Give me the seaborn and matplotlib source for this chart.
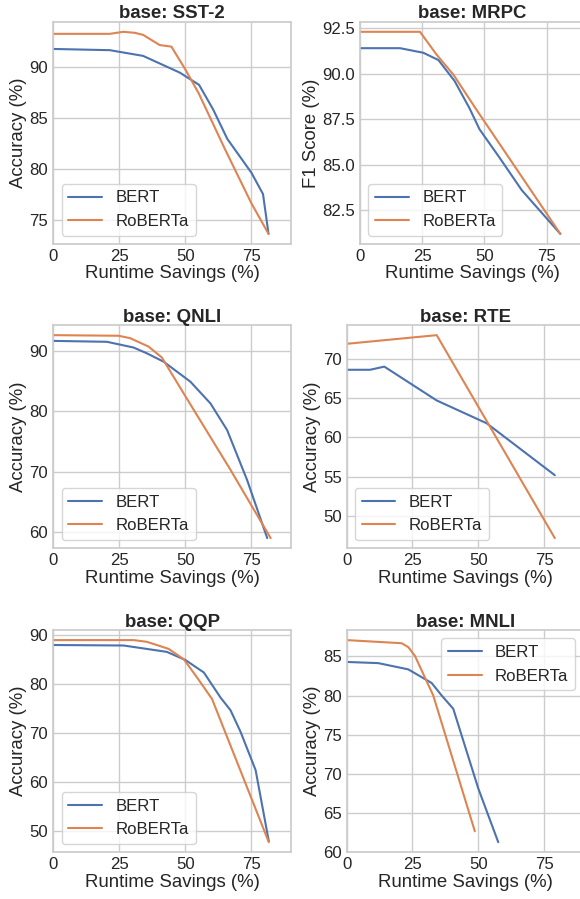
import numpy as np
import pandas as pd
import matplotlib
matplotlib.use("Agg")
import matplotlib.pyplot as plt
import seaborn as sns

# ---------------- data ----------------
models = ["BERT", "RoBERTa"]

sst2_bert_x = [0, 21.4, 34, 47.9, 55.2, 60.5, 65.9, 75, 79.4, 81.5]
sst2_bert_y = [91.72, 91.6, 91.04, 89.4, 88.2, 85.8, 82.9, 79.6, 77.5, 73.6]
sst2_rob_x = [0, 21.4, 26.5, 30.9, 34, 40.3, 44.7, 49.8, 55, 65, 75, 81.5]
sst2_rob_y = [93.2, 93.2, 93.4, 93.3, 93.1, 92.1, 91.95, 89.8, 87.4, 81.9, 76.6, 73.6]

mrpc_bert_x = [0, 16.1, 25.4, 31.5, 38, 44, 48, 56, 65, 80.5]
mrpc_bert_y = [91.4, 91.4, 91.15, 90.75, 89.6, 88.1, 86.95, 85.4, 83.6, 81.2]
mrpc_rob_x = [0, 24.1, 30.8, 37.5, 46.9, 80.5]
mrpc_rob_y = [92.3, 92.3, 91.04, 89.95, 88.0, 81.2]

qnli_bert_x = [0, 20.3, 30.4, 35.4, 41.8, 51.9, 59.5, 65.8, 73.4, 81]
qnli_bert_y = [91.65, 91.5, 90.55, 89.6, 88.2, 84.9, 81.3, 76.9, 68.6, 59.0]
qnli_rob_x = [0, 24.7, 29.1, 36.1, 41.1, 50, 67.1, 82.3]
qnli_rob_y = [92.6, 92.5, 92.1, 90.7, 88.9, 82.5, 70.3, 59.0]

rte_bert_x = [0, 8.9, 14.3, 34.2, 53.2, 79.1]
rte_bert_y = [68.6, 68.6, 69.0, 64.7, 61.8, 55.2]
rte_rob_x = [0, 34.2, 79.1]
rte_rob_y = [71.9, 73.0, 47.2]

qqp_bert_x = [0, 26.6, 43, 50, 57, 63.3, 67.1, 70.9, 76.6, 81.6]
qqp_bert_y = [88.0, 87.9, 86.6, 84.95, 82.4, 77.3, 74.7, 70.3, 62.5, 48.0]
qqp_rob_x = [0, 30.4, 35.4, 39.2, 43.7, 49.4, 54.4, 60.1, 81.6]
qqp_rob_y = [89.0, 89.0, 88.65, 88.0, 87.2, 85.1, 81.4, 77.0, 47.8]

mnli_bert_x = [0, 12, 23.4, 32.3, 36.1, 40.5, 50, 57.6]
mnli_bert_y = [84.3, 84.15, 83.35, 81.6, 80.0, 78.3, 68.1, 61.2]
mnli_rob_x = [0, 20.9, 23.4, 25.9, 32.9, 48.7]
mnli_rob_y = [87.1, 86.7, 86.2, 85.1, 80.0, 62.6]

titles = ["base: SST-2", "base: MRPC", "base: QNLI", "base: RTE", "base: QQP", "base: MNLI"]
ylabels = ["Accuracy (%)", "F1 Score (%)", "Accuracy (%)", "Accuracy (%)", "Accuracy (%)", "Accuracy (%)"]
xlabel = "Runtime Savings (%)"
xticks = [0, 25, 50, 75]
yticks = [
    [75, 80, 85, 90],
    [82.5, 85.0, 87.5, 90.0, 92.5],
    [60, 70, 80, 90],
    [50, 55, 60, 65, 70],
    [50, 60, 70, 80, 90],
    [60, 65, 70, 75, 80, 85],
]
yfmt = ["{:.0f}", "{:.1f}", "{:.0f}", "{:.0f}", "{:.0f}", "{:.0f}"]

panels = [
    (sst2_bert_x, sst2_bert_y, sst2_rob_x, sst2_rob_y),
    (mrpc_bert_x, mrpc_bert_y, mrpc_rob_x, mrpc_rob_y),
    (qnli_bert_x, qnli_bert_y, qnli_rob_x, qnli_rob_y),
    (rte_bert_x, rte_bert_y, rte_rob_x, rte_rob_y),
    (qqp_bert_x, qqp_bert_y, qqp_rob_x, qqp_rob_y),
    (mnli_bert_x, mnli_bert_y, mnli_rob_x, mnli_rob_y),
]
legend_locs = ["lower left"] * 5 + ["upper right"]

# ---------------- style ----------------
sns.set_theme(style="whitegrid", palette="deep")
plt.rcParams["font.family"] = ["Liberation Sans", "DejaVu Sans"]

W, H = 580, 899
fig = plt.figure(figsize=(W / 100, H / 100), dpi=100)

# axes boxes in pixels: (left, top, right, bottom)
boxes = [
    (53.3, 21.7, 291.0, 244.0),
    (360.0, 21.7, 584.0, 244.0),
    (53.3, 325.0, 291.0, 548.3),
    (346.7, 325.0, 583.5, 548.3),
    (53.3, 630.0, 291.0, 852.3),
    (346.7, 630.0, 583.5, 852.3),
]

for i, (bx, by, rx, ry) in enumerate(panels):
    l, t, r, b = boxes[i]
    ax = fig.add_axes([l / W, 1 - b / H, (r - l) / W, (b - t) / H])
    df = pd.DataFrame({
        "x": list(bx) + list(rx),
        "y": list(by) + list(ry),
        "model": [models[0]] * len(bx) + [models[1]] * len(rx),
    })
    sns.lineplot(data=df, x="x", y="y", hue="model", hue_order=models,
                 sort=False, estimator=None, ax=ax, linewidth=1.5)
    ax.set_xlim(0, 90)
    ax.set_xticks(xticks)
    ax.set_yticks(yticks[i])
    ax.set_yticklabels([yfmt[i].format(v) for v in yticks[i]])
    ax.tick_params(labelsize=12.1, length=0, pad=3.6)
    ax.set_xlabel(xlabel, fontsize=13.4, labelpad=1)
    ax.set_ylabel(ylabels[i], fontsize=13.4, labelpad=1.5)
    ax.set_title(titles[i], fontsize=13.4, fontweight="bold", pad=2.5)
    handles, labels = ax.get_legend_handles_labels()
    ax.legend(handles, labels, loc=legend_locs[i], fontsize=12.1,
              frameon=True, framealpha=0.8)

fig.savefig("out.png", dpi=100)
